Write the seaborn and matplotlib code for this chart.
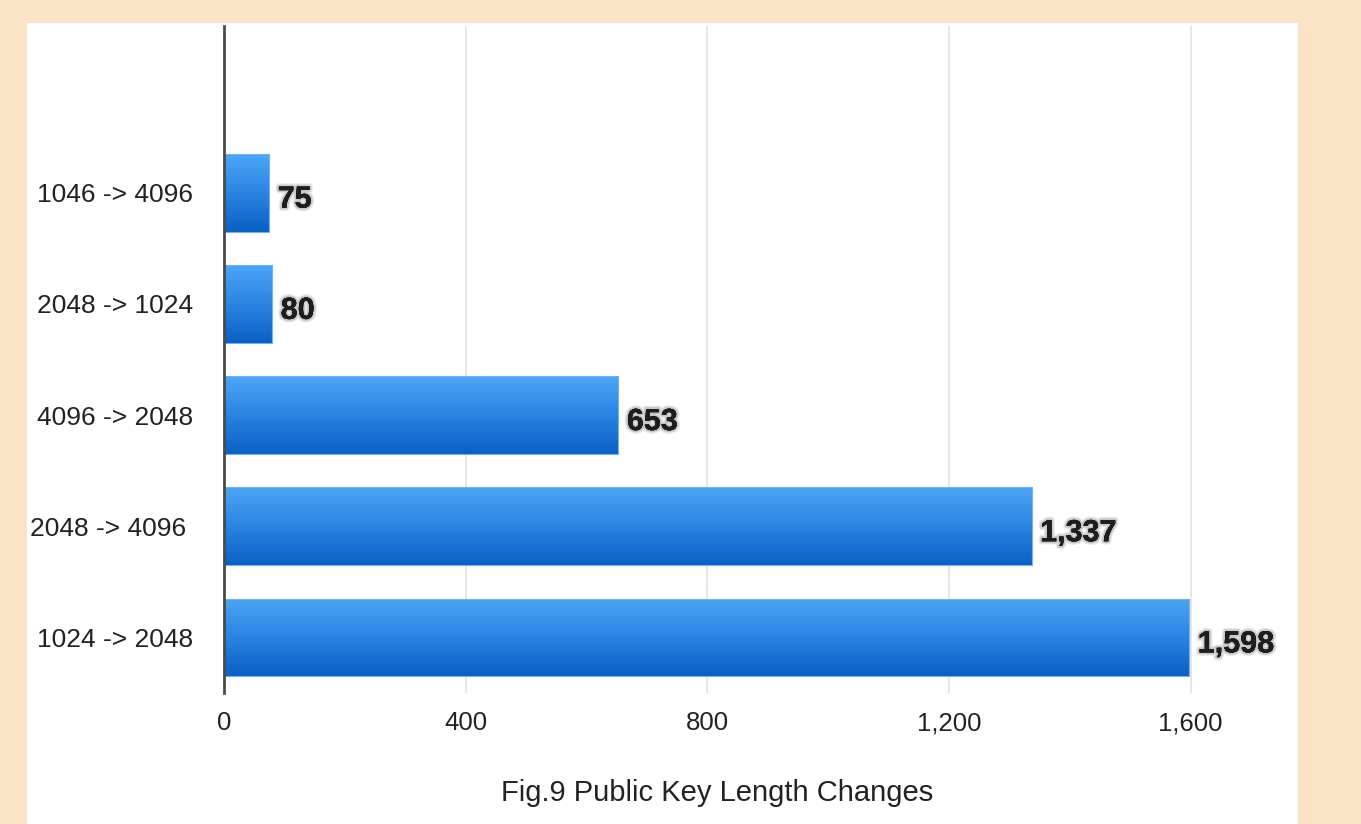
import numpy as np
import pandas as pd
import matplotlib
matplotlib.use("Agg")
import matplotlib.pyplot as plt
import matplotlib.patheffects as pe
from matplotlib.patches import Rectangle
from matplotlib.colors import LinearSegmentedColormap
import seaborn as sns

# Key length transitions (top to bottom) and their counts
transitions = ["1046 -> 4096", "2048 -> 1024", "4096 -> 2048", "2048 -> 4096 ", "1024 -> 2048"]
counts = [75, 80, 653, 1337, 1598]
x_ticks = [0, 400, 800, 1200, 1600]
title = "Fig.9 Public Key Length Changes"

df = pd.DataFrame({"transition": transitions, "count": counts})

sns.set_theme(style="white")
plt.rcParams["font.family"] = ["Liberation Sans", "DejaVu Sans"]

W, H = 1361, 824
fig = plt.figure(figsize=(W / 100, H / 100), dpi=100)
fig.patch.set_facecolor("#FBE4C6")

# white card behind the chart
fig.patches.append(Rectangle((27 / W, 0), (1298 - 27) / W, (824 - 23) / H,
                             transform=fig.transFigure, facecolor="white",
                             edgecolor="none", zorder=-10))

ax = fig.add_axes([224 / W, 1 - 693 / H, (1251 - 224) / W, (693 - 26) / H])
ax.set_facecolor("none")
ax.set_zorder(1)

sns.barplot(data=df, x="count", y="transition", orient="h", ax=ax,
            width=0.7, color="#2F86E0", saturation=1, errorbar=None)

# vertical gradient fill for each bar
cmap = LinearSegmentedColormap.from_list("bar", ["#4DA5F5", "#2A85E2", "#0B5FC1"])
grad = np.linspace(0, 1, 256).reshape(-1, 1)
for patch in ax.patches:
    x0, y0 = patch.get_x(), patch.get_y()
    w, h = patch.get_width(), patch.get_height()
    im = ax.imshow(grad, cmap=cmap, aspect="auto", origin="lower",
                   extent=[x0, x0 + w, y0, y0 + h], zorder=2, interpolation="bicubic")
    im.set_clip_path(patch)
    patch.set_facecolor("none")
    patch.set_edgecolor("#6FB2F2")
    patch.set_linewidth(0.8)
    patch.set_zorder(3)

ax.set_xlim(0, 1700)
ax.set_ylim(len(transitions) - 0.5, -1.5)

ax.set_xticks(x_ticks)
ax.set_xticklabels([f"{v:,}" for v in x_ticks], fontsize=18.5, color="#222222")
ax.tick_params(axis="y", labelsize=19, labelcolor="#222222", pad=22, length=0)
ax.tick_params(axis="x", pad=13, length=0)
ax.set_xlabel("")
ax.set_ylabel("")

ax.grid(axis="x", color="#E2E2E2", linewidth=1.2, zorder=0)
ax.set_axisbelow(True)
for g in ax.get_xgridlines():
    if g.get_xdata()[0] == 0:
        g.set_visible(False)

for s in ["top", "right", "bottom"]:
    ax.spines[s].set_visible(False)
ax.spines["left"].set_color("#4A4A4A")
ax.spines["left"].set_linewidth(2)
ax.spines["left"].set_zorder(5)

# soft dark halo behind the value labels
shadow = [pe.withStroke(linewidth=5, foreground=(0, 0, 0, 0.08)),
          pe.withStroke(linewidth=3, foreground=(0, 0, 0, 0.14)),
          pe.Normal()]
for patch, v in zip(ax.patches, counts):
    yc = patch.get_y() + patch.get_height() / 2
    ax.annotate(f"{v:,}", xy=(v, yc), xytext=(6, -5), textcoords="offset points",
                ha="left", va="center", fontsize=22, fontweight="bold",
                color="#1E1E1E", path_effects=shadow)

fig.text(717 / W, 1 - 793 / H, title, ha="center", va="center",
         fontsize=21, color="#222222")

fig.savefig("out.png", dpi=100, facecolor=fig.get_facecolor())
